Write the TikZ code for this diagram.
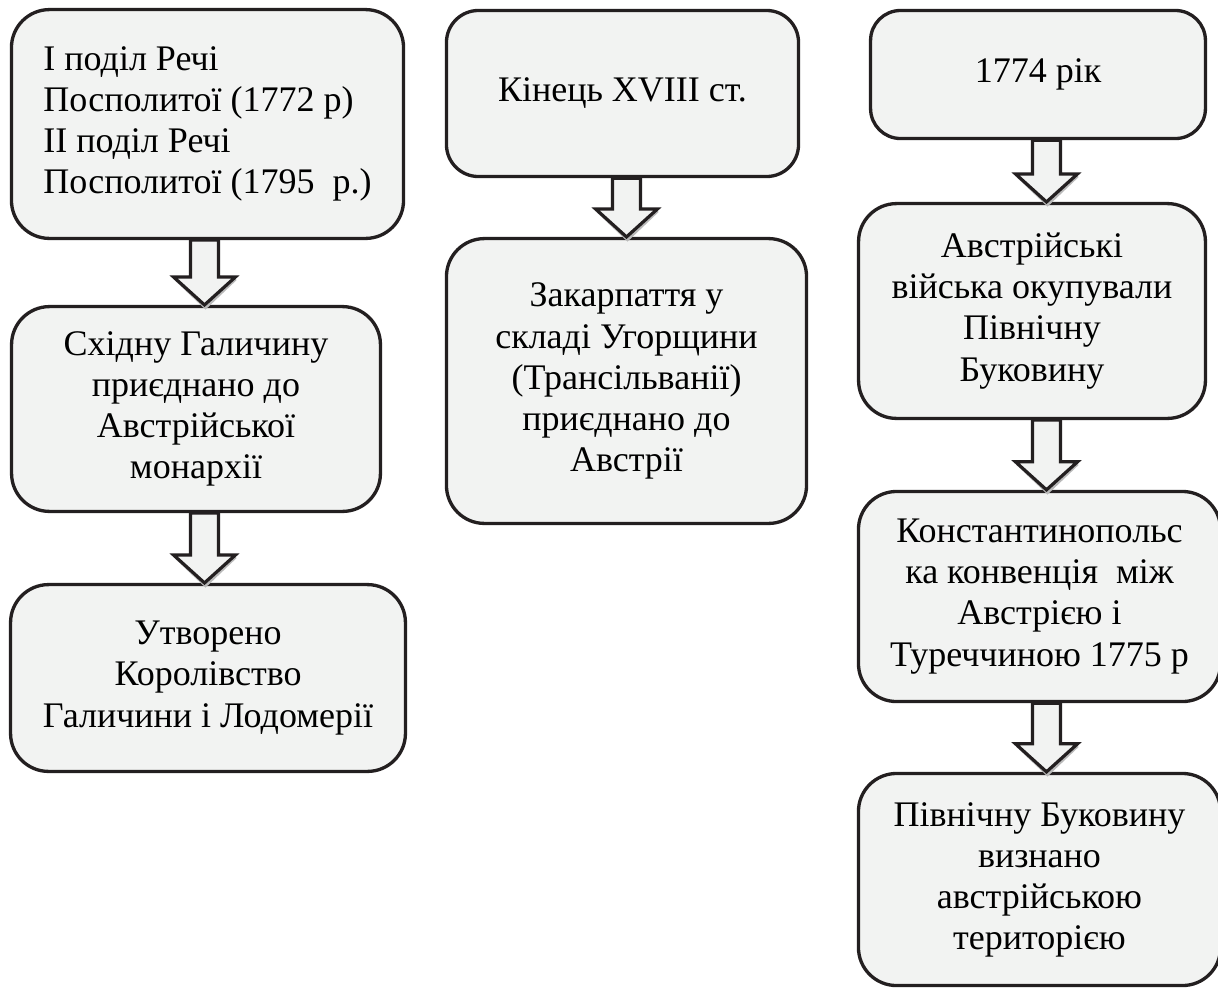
\documentclass[tikz,border=0pt]{standalone}
\usepackage{fontspec}
\setmainfont{Liberation Serif}
\usetikzlibrary{calc}
\definecolor{boxfill}{HTML}{F2F3F2}
\definecolor{boxline}{HTML}{231F20}

% hollow block arrow: from the bottom of #1 to the top of #2, on the column #3
\newcommand{\blockarrow}[3]{%
  \path (#3 |- #1.south) coordinate (ba-top) (#3 |- #2.north) coordinate (ba-tip);
  \draw[arrowshadow] ($(ba-tip)+(-29,-26)$) -- ($(ba-tip)+(1,2.5)$) -- ($(ba-tip)+(31,-26)$);
  \filldraw[arrowbox] ($(ba-top)+(-14,0)$) -- ($(ba-tip)+(-14,-28)$) -- ($(ba-tip)+(-31,-28)$)
    -- (ba-tip) -- ($(ba-tip)+(31,-28)$) -- ($(ba-tip)+(14,-28)$) -- ($(ba-top)+(14,0)$) -- cycle;
}

\begin{document}
\begin{tikzpicture}[x=0.025cm, y=-0.025cm,
  every node/.style={font=\fontsize{25.6pt}{29.2pt}\selectfont},
  stage/.style={draw=boxline, fill=boxfill, line width=0.083cm, rounded corners=0.95cm,
    inner sep=0pt, align=center},
  arrowbox/.style={draw=boxline, fill=boxfill, line width=0.08cm, line join=miter},
  arrowshadow/.style={draw=gray!55, line width=0.08cm}]
  \useasboundingbox (0,0) rectangle (1218,989);

  % left column: Galicia
  \node[stage, align=left, minimum width=9.8cm, minimum height=5.72cm] (galA) at (207.5,124)
    {І поділ Речі\\Посполитої (1772 р)\\ІІ поділ Речі\\Посполитої (1795~ р.)};
  \node[stage, minimum width=9.22cm, minimum height=5.12cm] (galB) at (196,409)
    {Східну Галичину\\приєднано до\\Австрійської\\монархії};
  \node[stage, minimum width=9.87cm, minimum height=4.67cm] (galC) at (208,678)
    {Утворено\\Королівство\\Галичини і Лодомерії};

  % middle column: Transcarpathia
  \node[stage, rounded corners=0.8cm, minimum width=8.8cm, minimum height=4.15cm] (zakA) at (622.5,93.5)
    {Кінець XVIII ст.};
  \node[stage, minimum width=9cm, minimum height=7.12cm] (zakB) at (626.5,381)
    {Закарпаття у\\складі Угорщини\\(Трансільванії)\\приєднано до\\Австрії};

  % right column: Bukovina
  \node[stage, rounded corners=0.75cm, minimum width=8.37cm, minimum height=3.2cm] (bukA) at (1038,74.5)
    {1774 рік};
  \node[stage, minimum width=8.67cm, minimum height=5.37cm] (bukB) at (1032,311)
    {Австрійські\\війська окупували\\Північну\\Буковину};
  \node[stage, minimum width=9.05cm, minimum height=5.25cm] (bukC) at (1039.5,596.5)
    {Константинопольс\\ка конвенція~ між\\Австрією і\\Туреччиною 1775 р};
  \node[stage, minimum width=9.05cm, minimum height=5.3cm] (bukD) at (1039.5,879.5)
    {Північну Буковину\\визнано\\австрійською\\територією};

  % arrow columns
  \coordinate (colA) at (204.5,0);
  \coordinate (colB) at (626.5,0);
  \coordinate (colC) at (1046.5,0);

  \blockarrow{galA}{galB}{colA}
  \blockarrow{galB}{galC}{colA}
  \blockarrow{zakA}{zakB}{colB}
  \blockarrow{bukA}{bukB}{colC}
  \blockarrow{bukB}{bukC}{colC}
  \blockarrow{bukC}{bukD}{colC}
\end{tikzpicture}
\end{document}
